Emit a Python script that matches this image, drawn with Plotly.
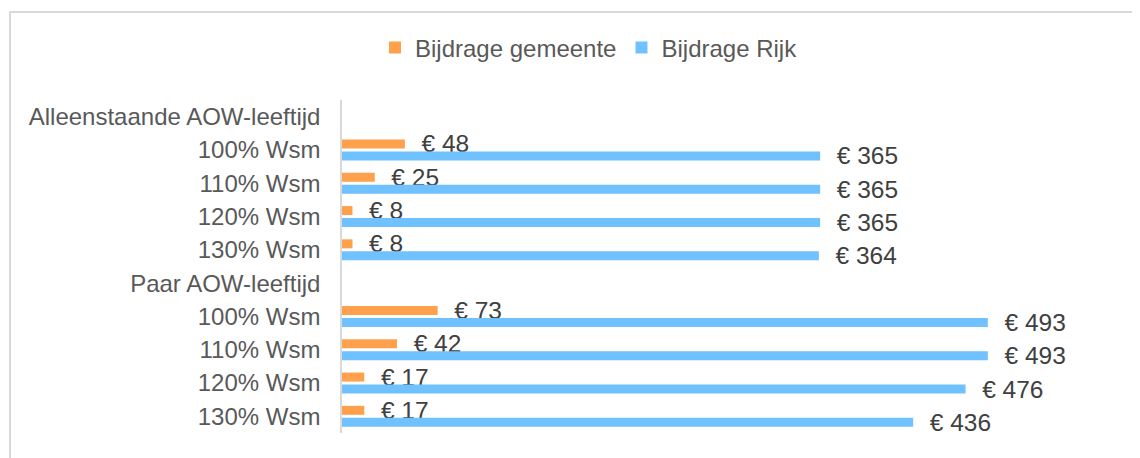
import plotly.graph_objects as go

categories = ["Alleenstaande AOW-leeftijd", "100% Wsm", "110% Wsm", "120% Wsm", "130% Wsm",
              "Paar AOW-leeftijd", "100% Wsm", "110% Wsm", "120% Wsm", "130% Wsm"]
gemeente = [None, 48, 25, 8, 8, None, 73, 42, 17, 17]
rijk = [None, 365, 365, 365, 364, None, 493, 493, 476, 436]
series_names = ["Bijdrage gemeente", "Bijdrage Rijk"]
colors = ["#FFA04C", "#70C1FF"]

FONT = "Liberation Sans, Arial, sans-serif"
positions = list(range(len(categories)))

def labels(vals):
    return ["" if v is None else "\u00a0\u00a0€ %d" % v for v in vals]

fig = go.Figure()
for name, vals, col in zip(series_names, [gemeente, rijk], colors):
    fig.add_trace(go.Bar(
        y=positions, x=vals, name=name, orientation="h",
        marker=dict(color=col, line=dict(width=0)),
        text=labels(vals), textposition="outside", constraintext="none",
        textfont=dict(family=FONT, size=24.5, color="#404040"),
        cliponaxis=False, hoverinfo="skip",
    ))

OFF = 8  # page body margin
W, H = 1140 - OFF, 458 - OFF
L, R, T, B = 342 - OFF, 40, 100 - OFF, 25
pw, ph = W - L - R, H - T - B

def px(p):
    return (p - OFF - L) / pw

def py(q):
    return (H - B - (q - OFF)) / ph

fig.update_layout(
    width=W, height=H,
    margin=dict(l=L, r=R, t=T, b=B),
    paper_bgcolor="white", plot_bgcolor="white",
    barmode="group", bargap=0.28, bargroupgap=0.25,
    font=dict(family=FONT, size=24, color="#595959"),
    showlegend=True,
    legend=dict(orientation="h", x=px(589), xanchor="center", y=py(48), yanchor="middle",
                font=dict(family=FONT, size=24, color="#595959"),
                traceorder="normal", bgcolor="rgba(0,0,0,0)"),
    xaxis=dict(range=[0, pw / 1.31], showgrid=False, zeroline=False, showline=False,
               showticklabels=False, ticks=""),
    yaxis=dict(tickmode="array", tickvals=positions, ticktext=categories,
               range=[len(categories) - 0.5, -0.5], showgrid=False, zeroline=False,
               showline=True, linecolor="#D9D9D9", linewidth=1.5, ticks="",
               ticklabelstandoff=15,
               tickfont=dict(family=FONT, size=24, color="#595959")),
    shapes=[dict(type="rect", xref="paper", yref="paper",
                 x0=px(10), x1=px(1300), y0=py(600), y1=py(12),
                 line=dict(color="#D9D9D9", width=2), fillcolor="rgba(0,0,0,0)", layer="below")],
)

fig.write_html("out.html")
